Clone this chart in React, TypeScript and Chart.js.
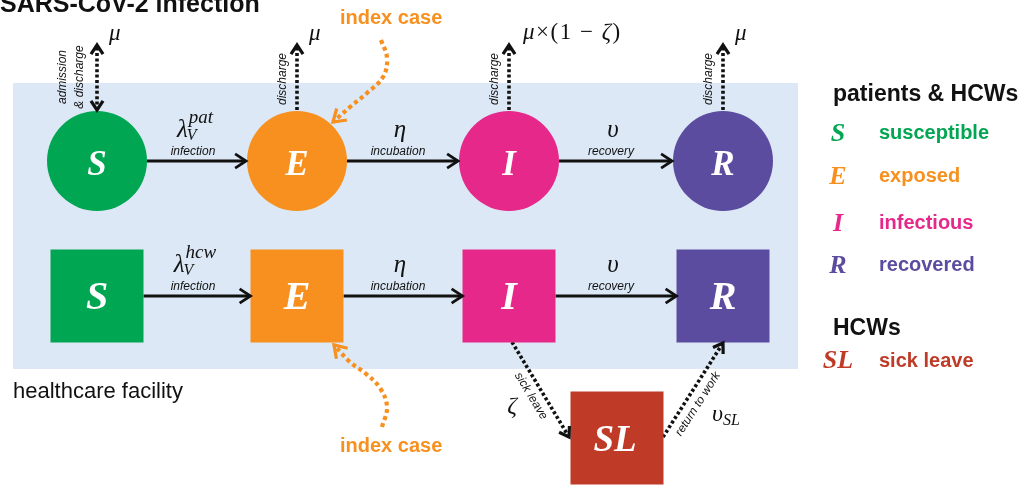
import React, { useEffect, useRef } from 'react';
import { Chart, registerables } from 'chart.js';

Chart.register(...registerables);

// ---------------- values ----------------
const compartmentLetters = ['S', 'E', 'I', 'R'];
const compartmentNames = ['susceptible', 'exposed', 'infectious', 'recovered'];
const compartmentX = [97, 297, 509, 723];
const patientRowY = 161;
const staffRowY = 296;

const sickLeaveLetters = 'SL';
const sickLeaveName = 'sick leave';
const sickLeaveX = 617;
const sickLeaveY = 438;

const rateSymbols = ['λ', 'η', 'υ'];
const patientRateSup = ['pat', '', ''];
const staffRateSup = ['hcw', '', ''];
const rateSub = ['V', '', ''];
const rateNames = ['infection', 'incubation', 'recovery'];
const rateLabelX = [195, 400, 613];

// exit rate label runs: [text, italic]
const exitRateRuns: [string, boolean][][] = [
  [['μ', true]],
  [['μ', true]],
  [['μ', true], ['×(1 − ', false], ['ζ', true], [')', false]],
  [['μ', true]],
];
const exitNames = [['admission', '& discharge'], ['discharge'], ['discharge'], ['discharge']];
const exitTopY = 45;

const sickLeaveFlowX = [512, 569];
const sickLeaveFlowY = [342, 437];
const returnFlowX = [663, 723];
const returnFlowY = [437, 343];
const sickLeaveRate = 'ζ';
const returnRate = 'υ';
const returnRateSub = 'SL';
const sickLeaveFlowName = 'sick leave';
const returnFlowName = 'return to work';

const indexTopX = [381, 387, 383, 367, 350, 333];
const indexTopY = [40, 58, 77, 93, 107, 122];
const indexBottomX = [382, 387, 380, 365, 350, 334];
const indexBottomY = [427, 407, 388, 373, 362, 345];

const facilityBox = [13, 83, 798, 369];
const titleText = 'SARS-CoV-2 infection';
const facilityText = 'healthcare facility';
const indexCaseText = 'index case';
const legendHeaderAll = 'patients & HCWs';
const legendHeaderStaff = 'HCWs';

// ---------------- styles / layout ----------------
const W = 1035;
const H = 486;
const COLORS = ['#00a651', '#f7901e', '#e6288a', '#5c4c9f'];
const SL_COLOR = '#bf3a27';
const FACILITY_FILL = '#dce8f5';
const INDEX_COLOR = '#f7901e';
const INK = '#111111';
const CIRCLE_R = 50;
const SQUARE_HALF = 46.5;
const SERIF = '"Liberation Serif", "DejaVu Serif", serif';
const SANS = '"Liberation Sans", Arial, sans-serif';
const SMALL_FONT = `italic 12px ${SANS}`;
const LEGEND_LETTER_X = 838;
const LEGEND_TEXT_X = 879;
const LEGEND_BASELINES = [139, 182, 229, 271];

const pt = (xs: number[], ys: number[]) => xs.map((x, i) => ({ x, y: ys[i] }));

function arrowDataset(xs: number[], ys: number[], kind: 'solid' | 'dotted' | 'index', heads: 'end' | 'both', tension = 0) {
  const base: any = {
    type: 'scatter',
    data: pt(xs, ys),
    showLine: true,
    pointRadius: 0,
    pointHoverRadius: 0,
    fill: false,
    tension,
    clip: false,
    order: 5,
    arrowHeads: heads,
    arrowKind: kind,
  };
  if (kind === 'solid') {
    base.borderColor = INK;
    base.borderWidth = 2.8;
  } else if (kind === 'dotted') {
    base.borderColor = INK;
    base.borderWidth = 3.6;
    base.borderDash = [3, 2.4];
  } else {
    base.borderColor = INDEX_COLOR;
    base.borderWidth = 4.2;
    base.borderDash = [4, 3.4];
  }
  return base;
}

function buildDatasets() {
  const ds: any[] = [];
  ds.push({
    data: compartmentX.map((x) => ({ x, y: patientRowY })),
    pointStyle: 'circle',
    pointRadius: CIRCLE_R,
    pointHoverRadius: CIRCLE_R,
    pointBackgroundColor: COLORS,
    pointBorderWidth: 0,
    clip: false,
    order: 0,
  });
  ds.push({
    data: compartmentX.map((x) => ({ x, y: staffRowY })),
    pointStyle: 'rect',
    pointRadius: SQUARE_HALF * Math.SQRT2,
    pointHoverRadius: SQUARE_HALF * Math.SQRT2,
    pointBackgroundColor: COLORS,
    pointBorderWidth: 0,
    clip: false,
    order: 0,
  });
  ds.push({
    data: [{ x: sickLeaveX, y: sickLeaveY }],
    pointStyle: 'rect',
    pointRadius: SQUARE_HALF * Math.SQRT2,
    pointHoverRadius: SQUARE_HALF * Math.SQRT2,
    pointBackgroundColor: SL_COLOR,
    pointBorderWidth: 0,
    clip: false,
    order: 0,
  });
  for (let i = 0; i < 3; i++) {
    ds.push(arrowDataset([compartmentX[i] + CIRCLE_R, compartmentX[i + 1] - CIRCLE_R - 1], [patientRowY, patientRowY], 'solid', 'end'));
    ds.push(arrowDataset([compartmentX[i] + SQUARE_HALF, compartmentX[i + 1] - SQUARE_HALF], [staffRowY, staffRowY], 'solid', 'end'));
  }
  for (let i = 0; i < 4; i++) {
    ds.push(arrowDataset([compartmentX[i], compartmentX[i]], [patientRowY - CIRCLE_R - 1, exitTopY], 'dotted', i === 0 ? 'both' : 'end'));
  }
  ds.push(arrowDataset(sickLeaveFlowX, sickLeaveFlowY, 'dotted', 'end'));
  ds.push(arrowDataset(returnFlowX, returnFlowY, 'dotted', 'end'));
  ds.push(arrowDataset(indexTopX, indexTopY, 'index', 'end', 0.4));
  ds.push(arrowDataset(indexBottomX, indexBottomY, 'index', 'end', 0.4));
  return ds;
}

function chevron(ctx: CanvasRenderingContext2D, tx: number, ty: number, fx: number, fy: number, color: string, size: number, width: number) {
  const ang = Math.atan2(ty - fy, tx - fx);
  const a = 0.58;
  ctx.save();
  ctx.setLineDash([]);
  ctx.strokeStyle = color;
  ctx.lineWidth = width;
  ctx.lineCap = 'butt';
  ctx.lineJoin = 'miter';
  ctx.beginPath();
  ctx.moveTo(tx - size * Math.cos(ang - a), ty - size * Math.sin(ang - a));
  ctx.lineTo(tx, ty);
  ctx.lineTo(tx - size * Math.cos(ang + a), ty - size * Math.sin(ang + a));
  ctx.stroke();
  ctx.restore();
}

const backgroundPlugin = {
  id: 'facilityBackground',
  beforeDatasetsDraw(chart: any) {
    const { ctx } = chart;
    const xs = chart.scales.x;
    const ys = chart.scales.y;
    const x0 = xs.getPixelForValue(facilityBox[0]);
    const y0 = ys.getPixelForValue(facilityBox[1]);
    const x1 = xs.getPixelForValue(facilityBox[2]);
    const y1 = ys.getPixelForValue(facilityBox[3]);
    ctx.save();
    ctx.fillStyle = FACILITY_FILL;
    ctx.fillRect(x0, y0, x1 - x0, y1 - y0);
    ctx.restore();
  },
};

const arrowPlugin = {
  id: 'arrowHeads',
  afterDatasetsDraw(chart: any) {
    const { ctx } = chart;
    chart.data.datasets.forEach((d: any, i: number) => {
      if (!d.arrowHeads) return;
      const pts = chart.getDatasetMeta(i).data;
      if (!pts || pts.length < 2) return;
      const color = d.borderColor;
      const size = d.arrowKind === 'solid' ? 13 : d.arrowKind === 'index' ? 14 : 11;
      const width = d.arrowKind === 'solid' ? 2.8 : 3.2;
      const last = pts[pts.length - 1];
      const prev = pts[pts.length - 2];
      let fx = prev.x, fy = prev.y;
      if (d.tension && last.cp1x !== undefined && (Math.abs(last.cp1x - last.x) + Math.abs(last.cp1y - last.y)) > 0.5) {
        fx = last.cp1x; fy = last.cp1y;
      }
      chevron(ctx, last.x, last.y, fx, fy, color, size, width);
      if (d.arrowHeads === 'both') {
        const first = pts[0];
        const second = pts[1];
        chevron(ctx, first.x, first.y, second.x, second.y, color, size, width);
      }
    });
  },
};

function symbolWithScripts(ctx: CanvasRenderingContext2D, cx: number, baseline: number, base: string, sup: string, sub: string) {
  ctx.font = `italic 25px ${SERIF}`;
  const wb = ctx.measureText(base).width;
  ctx.font = `italic 19px ${SERIF}`;
  const wsup = sup ? ctx.measureText(sup).width : 0;
  ctx.font = `italic 16px ${SERIF}`;
  const wsub = sub ? ctx.measureText(sub).width : 0;
  const total = wb + Math.max(wsup, wsub) + (sup || sub ? 1 : 0);
  const left = cx - total / 2;
  ctx.textAlign = 'left';
  ctx.textBaseline = 'alphabetic';
  ctx.font = `italic 25px ${SERIF}`;
  ctx.fillText(base, left, baseline);
  if (sup) {
    ctx.font = `italic 19px ${SERIF}`;
    ctx.fillText(sup, left + wb + 1, baseline - 14);
  }
  if (sub) {
    ctx.font = `italic 16px ${SERIF}`;
    ctx.fillText(sub, left + wb - 1, baseline + 3);
  }
}

function drawRuns(ctx: CanvasRenderingContext2D, runs: [string, boolean][], x: number, baseline: number, size: number) {
  let cx = x;
  ctx.textAlign = 'left';
  ctx.textBaseline = 'alphabetic';
  (ctx as any).letterSpacing = runs.length > 1 ? '1.5px' : '0px';
  runs.forEach(([t, it]) => {
    ctx.font = `${it ? 'italic ' : ''}${size}px ${SERIF}`;
    ctx.fillText(t, cx, baseline);
    cx += ctx.measureText(t).width;
  });
  (ctx as any).letterSpacing = '0px';
}

function rotatedText(ctx: CanvasRenderingContext2D, text: string, x: number, y: number, angle: number, font: string, color: string) {
  ctx.save();
  ctx.translate(x, y);
  ctx.rotate(angle);
  ctx.font = font;
  ctx.fillStyle = color;
  ctx.textAlign = 'center';
  ctx.textBaseline = 'middle';
  ctx.fillText(text, 0, 0);
  ctx.restore();
}

const textPlugin = {
  id: 'diagramText',
  afterDatasetsDraw(chart: any) {
    const { ctx } = chart;
    const xs = chart.scales.x;
    const ys = chart.scales.y;
    const px = (v: number) => xs.getPixelForValue(v);
    const py = (v: number) => ys.getPixelForValue(v);
    ctx.save();

    ctx.fillStyle = INK;
    ctx.textAlign = 'left';
    ctx.textBaseline = 'alphabetic';
    ctx.font = `bold 25px ${SANS}`;
    ctx.fillText(titleText, px(0), py(12));

    ctx.fillStyle = '#ffffff';
    ctx.textAlign = 'center';
    compartmentLetters.forEach((l, i) => {
      ctx.font = `italic bold 35px ${SERIF}`;
      ctx.fillText(l, px(compartmentX[i]), py(patientRowY) + 14);
      ctx.font = `italic bold 40px ${SERIF}`;
      ctx.fillText(l, px(compartmentX[i]), py(staffRowY) + 13);
    });
    ctx.font = `italic bold 37px ${SERIF}`;
    ctx.fillText(sickLeaveLetters, px(sickLeaveX) - 2, py(sickLeaveY) + 13);

    ctx.fillStyle = INK;
    for (let i = 0; i < 3; i++) {
      symbolWithScripts(ctx, px(rateLabelX[i]), py(patientRowY) - 24, rateSymbols[i], patientRateSup[i], rateSub[i]);
      symbolWithScripts(ctx, px(rateLabelX[i]), py(staffRowY) - 24, rateSymbols[i], staffRateSup[i], rateSub[i]);
      ctx.font = SMALL_FONT;
      ctx.textAlign = 'center';
      ctx.textBaseline = 'middle';
      ctx.fillText(rateNames[i], px(rateLabelX[i] - 2), py(patientRowY) - 9);
      ctx.fillText(rateNames[i], px(rateLabelX[i] - 2), py(staffRowY) - 9);
    }

    exitNames.forEach((names, i) => {
      if (names.length === 2) {
        rotatedText(ctx, names[0], px(compartmentX[i] - 34), py(77), -Math.PI / 2, SMALL_FONT, INK);
        rotatedText(ctx, names[1], px(compartmentX[i] - 17), py(77), -Math.PI / 2, SMALL_FONT, INK);
      } else {
        rotatedText(ctx, names[0], px(compartmentX[i] - 14), py(79), -Math.PI / 2, SMALL_FONT, INK);
      }
    });
    ctx.fillStyle = INK;
    exitRateRuns.forEach((runs, i) => {
      const multi = runs.length > 1;
      drawRuns(ctx, runs, px(compartmentX[i] + (multi ? 14 : 12)), py(multi ? 39 : 40), 23);
    });

    const a1 = Math.atan2(sickLeaveFlowY[1] - sickLeaveFlowY[0], sickLeaveFlowX[1] - sickLeaveFlowX[0]);
    rotatedText(ctx, sickLeaveFlowName, px(531), py(396), a1, SMALL_FONT, INK);
    const a2 = Math.atan2(returnFlowY[1] - returnFlowY[0], returnFlowX[1] - returnFlowX[0]);
    rotatedText(ctx, returnFlowName, px(698), py(404), a2, SMALL_FONT, INK);
    ctx.fillStyle = INK;
    ctx.textAlign = 'center';
    ctx.textBaseline = 'alphabetic';
    ctx.font = `italic 24px ${SERIF}`;
    ctx.fillText(sickLeaveRate, px(512), py(413));
    ctx.textAlign = 'left';
    ctx.fillText(returnRate, px(712), py(421));
    const wu = ctx.measureText(returnRate).width;
    ctx.font = `italic 16px ${SERIF}`;
    ctx.fillText(returnRateSub, px(712) + wu, py(425));

    ctx.fillStyle = INK;
    ctx.font = `22px ${SANS}`;
    ctx.fillText(facilityText, px(13), py(398));
    ctx.fillStyle = INDEX_COLOR;
    ctx.font = `bold 20px ${SANS}`;
    ctx.fillText(indexCaseText, px(340), py(24));
    ctx.fillText(indexCaseText, px(340), py(452));

    ctx.fillStyle = INK;
    ctx.font = `bold 23px ${SANS}`;
    ctx.fillText(legendHeaderAll, px(833), py(101));
    ctx.fillText(legendHeaderStaff, px(833), py(335));
    compartmentLetters.forEach((l, i) => {
      ctx.fillStyle = COLORS[i];
      ctx.textAlign = 'center';
      ctx.font = `italic bold 26px ${SERIF}`;
      ctx.fillText(l, px(LEGEND_LETTER_X), py(LEGEND_BASELINES[i] + 2));
      ctx.textAlign = 'left';
      ctx.font = `bold 20px ${SANS}`;
      ctx.fillText(compartmentNames[i], px(LEGEND_TEXT_X), py(LEGEND_BASELINES[i]));
    });
    ctx.fillStyle = SL_COLOR;
    ctx.textAlign = 'center';
    ctx.font = `italic bold 26px ${SERIF}`;
    ctx.fillText(sickLeaveLetters, px(LEGEND_LETTER_X), py(368));
    ctx.textAlign = 'left';
    ctx.font = `bold 20px ${SANS}`;
    ctx.fillText(sickLeaveName, px(LEGEND_TEXT_X), py(367));

    ctx.restore();
  },
};

export default function App() {
  const ref = useRef<HTMLCanvasElement>(null);
  useEffect(() => {
    const canvas = ref.current;
    if (!canvas) return;
    const chart = new Chart(canvas, {
      type: 'scatter',
      data: { datasets: buildDatasets() },
      options: {
        animation: false,
        responsive: false,
        maintainAspectRatio: false,
        events: [],
        layout: { padding: 0, autoPadding: false },
        plugins: {
          legend: { display: false },
          tooltip: { enabled: false },
          title: { display: false },
        },
        scales: {
          x: { type: 'linear', min: 0, max: W, display: false },
          y: { type: 'linear', min: 0, max: H, reverse: true, display: false },
        },
      } as any,
      plugins: [backgroundPlugin, arrowPlugin, textPlugin],
    });
    return () => chart.destroy();
  }, []);
  return (
    <div style={{ position: 'absolute', left: 0, top: 0, width: W, height: H, background: '#ffffff' }}>
      <canvas ref={ref} width={W} height={H} style={{ display: 'block', width: W, height: H }} />
    </div>
  );
}
